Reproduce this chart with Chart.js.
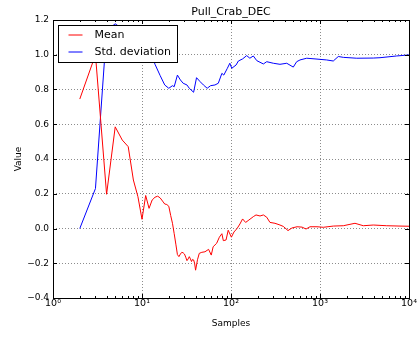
<!DOCTYPE html>
<html>
<head>
<meta charset="utf-8">
<script src="https://cdn.jsdelivr.net/npm/chart.js@4/dist/chart.umd.min.js"></script>
<style>
  html, body { margin: 0; padding: 0; background: #fff; }
  #wrap { width: 418px; height: 340px; }
</style>
</head>
<body>
<div id="wrap"><canvas id="c" width="418" height="340"></canvas></div>
<script>
// Running mean of the pull distribution against number of samples
const meanSamples = [2, 3, 4, 5, 6, 7, 8, 9, 10, 11, 12, 13, 14, 15, 16, 17, 18, 19, 20,
  21, 22, 23, 24, 25, 26, 27, 28, 29, 30, 31, 32, 33, 34, 35, 36, 37, 38, 39, 40,
  42, 44, 47, 51, 56, 60, 63, 69, 74, 79, 82, 88, 93, 101, 108, 117, 126, 135, 146,
  159, 178, 191, 212, 231, 252, 274, 312, 355, 387, 437, 484, 552, 628, 697, 772,
  925, 1089, 1410, 1828, 2173, 2472, 3067, 3970, 5613, 7925, 10000];
const meanValues = [0.745, 1.0, 0.197, 0.585, 0.509, 0.471, 0.279, 0.183, 0.053, 0.19,
  0.116, 0.164, 0.18, 0.186, 0.176, 0.158, 0.141, 0.138, 0.128,
  0.075, 0.03, -0.03, -0.09, -0.15, -0.162, -0.147, -0.137, -0.14, -0.147, -0.165,
  -0.185, -0.175, -0.162, -0.175, -0.19, -0.178, -0.181, -0.2, -0.24,
  -0.18, -0.143, -0.137, -0.134, -0.12, -0.153, -0.105, -0.085, -0.05, -0.03, -0.07,
  -0.066, -0.01, -0.05, -0.02, 0.0, 0.026, 0.055, 0.035,
  0.049, 0.068, 0.078, 0.072, 0.078, 0.065, 0.035, 0.03, 0.02, 0.012, -0.012, 0.003,
  0.01, 0.008, -0.003, 0.01, 0.01, 0.007, 0.014, 0.016, 0.024, 0.03, 0.016, 0.02,
  0.016, 0.014, 0.013];

// Running standard deviation against number of samples
const stdSamples = [2, 3, 4, 5, 6, 7, 8, 10, 12, 13, 14, 16, 18, 20, 22, 23, 25, 27,
  29, 32, 34, 38, 41, 45, 49, 54, 59, 66, 72, 79, 83, 91, 97, 102, 114, 121, 135,
  150, 163, 178, 195, 231, 252, 299, 355, 423, 501, 547, 596, 709, 879, 1189, 1410,
  1606, 1828, 2585, 3970, 4723, 7278, 10000];
const stdValues = [0.0, 0.23, 1.14, 1.178, 1.15, 1.13, 1.11, 1.07, 1.02, 0.99, 0.945,
  0.88, 0.826, 0.807, 0.822, 0.816, 0.883, 0.855,
  0.836, 0.826, 0.807, 0.784, 0.868, 0.845, 0.826, 0.807, 0.822, 0.826, 0.836, 0.893,
  0.883, 0.922, 0.951, 0.922, 0.941, 0.964, 0.976,
  0.995, 0.98, 0.993, 0.966, 0.947, 0.96, 0.951, 0.945, 0.951, 0.929, 0.96, 0.97, 0.98,
  0.976, 0.97, 0.964, 0.99, 0.985, 0.98, 0.981, 0.983, 0.993, 0.999];

const xTickValues = [1, 10, 100, 1000, 10000];
const xTickLabels = ['10\u2070', '10\u00B9', '10\u00B2', '10\u00B3', '10\u2074'];
const yMin = -0.4, yMax = 1.2, yStep = 0.2;

const FONT = 'DejaVu Sans';
const pts = (xs, ys) => xs.map((x, i) => ({ x: x, y: ys[i] }));

// Box frame with inward major/minor tick marks on all four sides
const frameTicks = {
  id: 'frameTicks',
  afterDatasetsDraw(chart) {
    const { ctx, chartArea: a, scales: { x, y } } = chart;
    ctx.save();
    ctx.strokeStyle = '#000';
    ctx.lineWidth = 1;
    ctx.beginPath();
    const seg = (x1, y1, x2, y2) => { ctx.moveTo(x1, y1); ctx.lineTo(x2, y2); };
    xTickValues.forEach(v => {
      const px = Math.round(x.getPixelForValue(v)) + 0.5;
      seg(px, a.bottom, px, a.bottom - 4);
      seg(px, a.top, px, a.top + 4);
    });
    for (let d = 1; d < 10000; d *= 10) {
      for (let k = 2; k <= 9; k++) {
        const px = Math.round(x.getPixelForValue(k * d)) + 0.5;
        seg(px, a.bottom, px, a.bottom - 2);
        seg(px, a.top, px, a.top + 2);
      }
    }
    y.ticks.forEach(t => {
      const py = Math.round(y.getPixelForValue(t.value)) + 0.5;
      seg(a.left, py, a.left + 4, py);
      seg(a.right, py, a.right - 4, py);
    });
    ctx.stroke();
    ctx.strokeRect(Math.round(a.left) + 0.5, Math.round(a.top) + 0.5,
      Math.round(a.right - a.left), Math.round(a.bottom - a.top));
    ctx.restore();
  }
};

// Legend drawn inside the upper-left corner of the plot area
const innerLegend = {
  id: 'innerLegend',
  afterDatasetsDraw(chart) {
    const { ctx, chartArea: a } = chart;
    const bx = Math.round(a.left) + 5.5, by = Math.round(a.top) + 5.5;
    const bw = 119, bh = 37;
    ctx.save();
    ctx.fillStyle = '#fff';
    ctx.fillRect(bx, by, bw, bh);
    ctx.strokeStyle = '#000';
    ctx.lineWidth = 1;
    ctx.strokeRect(bx, by, bw, bh);
    ctx.font = '11px "' + FONT + '"';
    ctx.textBaseline = 'middle';
    ctx.textAlign = 'left';
    chart.data.datasets.forEach((ds, i) => {
      const ly = by + 9.5 + i * 17;
      ctx.strokeStyle = ds.borderColor;
      ctx.lineWidth = 1;
      ctx.beginPath();
      ctx.moveTo(bx + 10, ly);
      ctx.lineTo(bx + 24, ly);
      ctx.stroke();
      ctx.fillStyle = '#000';
      ctx.fillText(ds.label, bx + 36, ly);
    });
    ctx.restore();
  }
};

const gridStyle = {
  color: 'rgba(0,0,0,0.45)',
  lineWidth: 1,
  drawTicks: false
};

new Chart(document.getElementById('c'), {
  type: 'line',
  data: {
    datasets: [
      {
        label: 'Mean',
        data: pts(meanSamples, meanValues),
        borderColor: '#ff0000',
        borderWidth: 1,
        pointRadius: 0,
        tension: 0,
        fill: false
      },
      {
        label: 'Std. deviation',
        data: pts(stdSamples, stdValues),
        borderColor: '#0000ff',
        borderWidth: 1,
        pointRadius: 0,
        tension: 0,
        fill: false
      }
    ]
  },
  options: {
    responsive: false,
    animation: false,
    devicePixelRatio: 1,
    layout: { padding: { top: 0, right: 9, bottom: 0, left: 0 } },
    plugins: {
      legend: { display: false },
      tooltip: { enabled: false },
      title: {
        display: true,
        text: 'Pull_Crab_DEC',
        fullSize: false,
        color: '#000',
        font: { family: FONT, size: 11, weight: 'normal', lineHeight: 1.2 },
        padding: { top: 6, bottom: 0.8 }
      }
    },
    scales: {
      x: {
        type: 'logarithmic',
        position: 'bottom',
        min: 1,
        max: 10000,
        afterBuildTicks(axis) {
          axis.ticks = xTickValues.map(v => ({ value: v, major: true }));
        },
        afterFit(axis) {
          axis.height = 42;
          axis.paddingLeft = 0;
          axis.paddingRight = 0;
        },
        ticks: {
          autoSkip: false,
          maxRotation: 0,
          padding: 0,
          color: '#000',
          font: { family: FONT, size: 9.5 },
          callback: (v) => xTickLabels[xTickValues.indexOf(v)]
        },
        grid: { ...gridStyle },
        border: { display: false, dash: [1, 2] },
        title: {
          display: true,
          text: 'Samples',
          color: '#000',
          font: { family: FONT, size: 9, lineHeight: 1.2 },
          padding: { top: 0, bottom: 11 }
        }
      },
      y: {
        type: 'linear',
        min: yMin,
        max: yMax,
        afterFit(axis) {
          axis.width = 53;
          axis.paddingTop = 0;
          axis.paddingBottom = 0;
        },
        ticks: {
          stepSize: yStep,
          padding: 4,
          color: '#000',
          font: { family: FONT, size: 9 },
          callback: (v) => (Math.abs(v) < 1e-9 ? '0.0' : v.toFixed(1).replace('-', '\u2212'))
        },
        grid: { ...gridStyle },
        border: { display: false, dash: [1, 2] },
        title: {
          display: true,
          text: 'Value',
          color: '#000',
          font: { family: FONT, size: 9, lineHeight: 1.2 },
          padding: { top: 13.6, bottom: 0 }
        }
      }
    }
  },
  plugins: [frameTicks, innerLegend]
});
</script>
</body>
</html>
